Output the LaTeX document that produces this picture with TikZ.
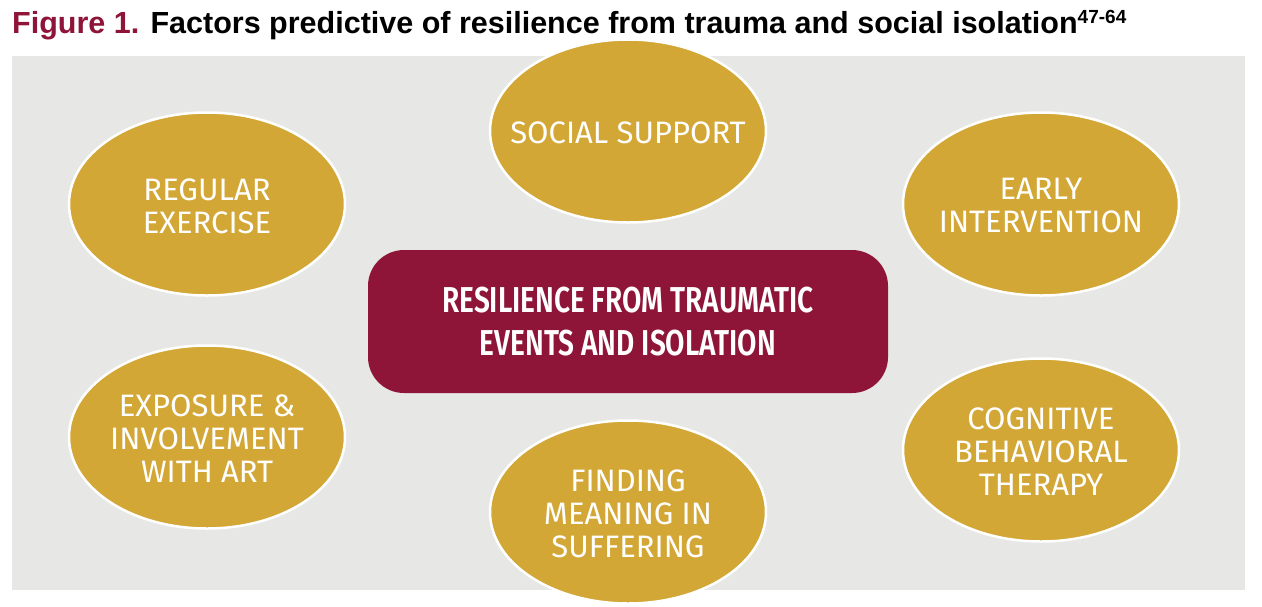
\documentclass[tikz,border=0pt]{standalone}
\usepackage{fontspec}
\setmainfont{Liberation Sans}
\newfontfamily\dinfont{Fira Sans}
\newfontfamily\dinbold{Fira Sans}[FakeStretch=0.78,UprightFont=* SemiBold]
\usetikzlibrary{shapes.geometric}
\definecolor{gold}{HTML}{D3A736}
\definecolor{maroon}{HTML}{8F1538}
\definecolor{bggray}{HTML}{E7E7E5}
\tikzset{
  factor/.style={ellipse, fill=gold, draw=white, line width=2.5pt, minimum width=276pt, minimum height=183pt, inner sep=0pt},
  factortext/.style={text=white, align=center, inner sep=0pt, font=\dinfont\fontsize{31}{33}\selectfont},
  core/.style={rounded corners=36pt, fill=maroon, draw=none, minimum width=520pt, minimum height=143pt, text=white, align=center, font=\dinbold\fontsize{36}{43}\selectfont},
}
\begin{document}
\begin{tikzpicture}[x=1pt,y=-1pt]
\useasboundingbox (0,0) rectangle (1262,606);
\fill[white] (0,0) rectangle (1262,606);
\fill[bggray] (12,56) rectangle (1245,590);
\node[anchor=base west, inner sep=0pt, font=\bfseries\fontsize{30.5}{34}\selectfont] (title) at (12,33)
  {\textcolor{maroon}{Figure 1.} Factors predictive of resilience from trauma and social isolation\textsuperscript{\fontsize{19}{19}\selectfont 47-64}};
\node[factor] (social) at (628,131) {};
\node[factortext] (socialtext) at ([yshift=-2pt]social) {SOCIAL SUPPORT};
\node[factor] (exercise) at (207,204) {};
\node[factortext] (exercisetext) at ([yshift=-2pt]exercise) {REGULAR\\EXERCISE};
\node[factor] (early) at (1041,204) {};
\node[factortext] (earlytext) at ([yshift=-2pt]early) {EARLY\\INTERVENTION};
\node[factor] (art) at (207,437) {};
\node[factortext] (arttext) at ([yshift=-2pt]art) {EXPOSURE \&\\INVOLVEMENT\\WITH ART};
\node[factor] (meaning) at (628,512) {};
\node[factortext] (meaningtext) at ([yshift=-2pt]meaning) {FINDING\\MEANING IN\\SUFFERING};
\node[factor] (cbt) at (1041,450) {};
\node[factortext] (cbttext) at ([yshift=-2pt]cbt) {COGNITIVE\\BEHAVIORAL\\THERAPY};
\node[core] (core) at (628,321.5) {RESILIENCE FROM TRAUMATIC\\EVENTS AND ISOLATION};
\end{tikzpicture}
\end{document}
